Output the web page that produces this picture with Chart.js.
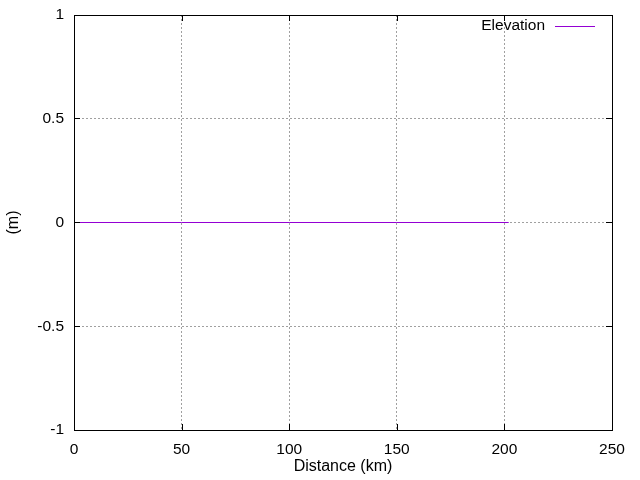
<!DOCTYPE html>
<html>
<head>
<meta charset="utf-8">
<script src="https://cdn.jsdelivr.net/npm/chart.js@4"></script>
<style>
  html, body { margin: 0; padding: 0; background: #fff; }
  #wrap { width: 640px; height: 480px; }
</style>
</head>
<body>
<div id="wrap"><canvas id="chart" width="640" height="480"></canvas></div>
<script>
// Elevation profile data (all zero along the route)
const distances = [0, 50, 100, 150, 202];
const elevations = [0, 0, 0, 0, 0];
const xTicks = [0, 50, 100, 150, 200, 250];
const yTicks = [-1, -0.5, 0, 0.5, 1];

const FONT = 'Liberation Sans, Arial, sans-serif';

// Frame, inward tick marks and legend, gnuplot style
const framePlugin = {
    id: 'frame',
    afterDraw(chart) {
        const ctx = chart.ctx;
        const a = chart.chartArea;
        const xs = chart.scales.x, ys = chart.scales.y;
        ctx.save();
        ctx.strokeStyle = '#000';
        ctx.lineWidth = 1;
        ctx.beginPath();
        xTicks.forEach(v => {
            const px = Math.round(xs.getPixelForValue(v)) + 0.5;
            ctx.moveTo(px, a.bottom); ctx.lineTo(px, a.bottom - 6);
            ctx.moveTo(px, a.top); ctx.lineTo(px, a.top + 6);
        });
        yTicks.forEach(v => {
            const py = Math.floor(ys.getPixelForValue(v)) + 0.5;
            ctx.moveTo(a.left, py); ctx.lineTo(a.left + 6, py);
            ctx.moveTo(a.right, py); ctx.lineTo(a.right - 6, py);
        });
        ctx.stroke();
        ctx.strokeRect(Math.round(a.left) + 0.5, Math.round(a.top) + 0.5,
            Math.round(a.right - a.left), Math.round(a.bottom - a.top));

        // legend
        const ds = chart.data.datasets[0];
        ctx.font = '15.5px ' + FONT;
        ctx.fillStyle = '#000';
        ctx.textAlign = 'right';
        ctx.textBaseline = 'middle';
        ctx.fillText(ds.label, 545, 26);
        ctx.strokeStyle = ds.borderColor;
        ctx.beginPath();
        ctx.moveTo(555, 26.5); ctx.lineTo(595, 26.5);
        ctx.stroke();
        ctx.restore();
    }
};

new Chart(document.getElementById('chart'), {
    type: 'line',
    data: {
        datasets: [{
            label: 'Elevation',
            data: distances.map((d, i) => ({ x: d, y: elevations[i] })),
            borderColor: '#9400d3',
            borderWidth: 1,
            pointRadius: 0,
            fill: false
        }]
    },
    options: {
        responsive: false,
        animation: false,
        layout: { padding: { top: 15, right: 28, left: 0, bottom: 0 } },
        plugins: { legend: { display: false }, tooltip: { enabled: false } },
        scales: {
            x: {
                type: 'linear',
                min: 0, max: 250,
                afterFit: s => { s.height = 50; s.paddingLeft = 0; s.paddingRight = 0; },
                afterBuildTicks: s => { s.ticks = xTicks.map(v => ({ value: v })); },
                border: { display: false, dash: [2, 2] },
                grid: { color: '#a0a0a0', drawTicks: false, lineWidth: 1 },
                ticks: { color: '#000', font: { family: FONT, size: 15.5 }, padding: 10, maxRotation: 0 },
                title: { display: true, text: 'Distance (km)', color: '#000', font: { family: FONT, size: 16 }, padding: { top: 1 } }
            },
            y: {
                type: 'linear',
                min: -1, max: 1,
                afterFit: s => { s.width = 74; s.paddingTop = 0; s.paddingBottom = 0; },
                afterBuildTicks: s => { s.ticks = yTicks.map(v => ({ value: v })); },
                border: { display: false, dash: [2, 2] },
                grid: { color: '#a0a0a0', drawTicks: false, lineWidth: 1 },
                ticks: { color: '#000', font: { family: FONT, size: 15.5 }, padding: 10, callback: v => String(v) },
                title: { display: true, text: '(m)', color: '#000', font: { family: FONT, size: 16 }, padding: { top: 4, bottom: 0 } }
            }
        }
    },
    plugins: [framePlugin]
});
</script>
</body>
</html>
